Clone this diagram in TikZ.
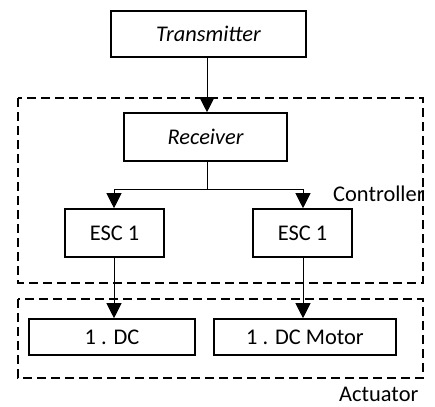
\documentclass[tikz,border=0pt]{standalone}
\usepackage{fontspec}
\setmainfont{Carlito}
\usetikzlibrary{arrows.meta}
\begin{document}
\begin{tikzpicture}[x=1bp,y=-1bp,
  blk/.style={draw,line width=1.6bp,inner sep=0pt,font=\fontsize{22.5}{24}\selectfont},
  grp/.style={draw,line width=1.8bp,dash pattern=on 9bp off 5bp},
  arr/.style={line width=1bp,-{Triangle[length=15bp,width=15bp]}},
  lbl/.style={anchor=west,inner sep=0pt,font=\fontsize{22.5}{24}\selectfont}]
  \useasboundingbox (0,0) rectangle (435,406);

  % grouping frames
  \draw[grp] (18,98) rectangle (423,283);
  \draw[grp] (18,299) rectangle (423,378);

  % blocks
  \node[blk,minimum width=195bp,minimum height=46bp] (tx) at (208.5,34) {\itshape Transmitter};
  \node[blk,minimum width=163bp,minimum height=48bp] (rx) at (205.5,137) {\itshape Receiver};
  \node[blk,minimum width=99bp,minimum height=48bp] (escL) at (114.5,233) {ESC 1};
  \node[blk,minimum width=99bp,minimum height=48bp] (escR) at (302.5,233) {ESC 1};
  \node[blk,minimum width=166bp,minimum height=36bp] (dcL) at (112,337) {1 . DC};
  \node[blk,minimum width=182bp,minimum height=36bp] (dcR) at (305,337) {1 . DC Motor};

  % group labels
  \node[lbl] (ctl) at (333,194) {Controller};
  \node[lbl] (act) at (339,394) {Actuator};

  % connectors
  \coordinate (split) at (207,189);
  \draw[arr] (tx.south -| split) -- (rx.north -| split);
  \draw[line width=1bp] (rx.south -| split) -- (split);
  \draw[arr] (split) -| (escL.north -| 114,0);
  \draw[arr] (split) -| (escR.north -| 303,0);
  \draw[arr] (escL.south -| 114,0) -- (dcL.north -| 114,0);
  \draw[arr] (escR.south -| 303,0) -- (dcR.north -| 303,0);
\end{tikzpicture}
\end{document}
